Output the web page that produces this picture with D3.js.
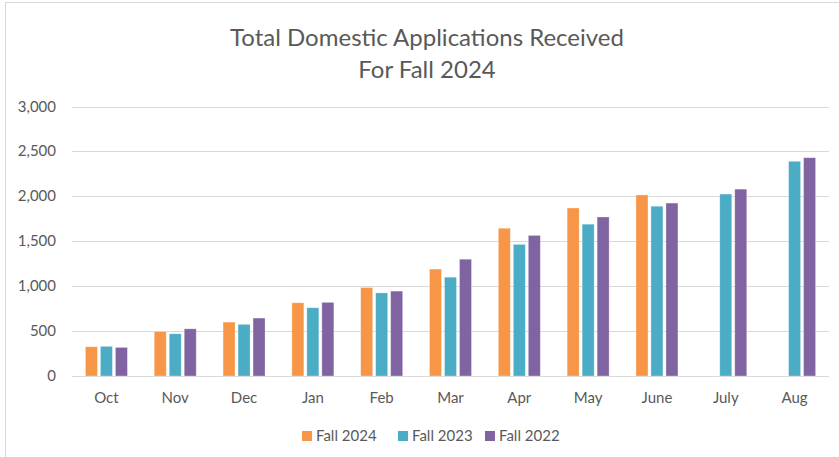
<!DOCTYPE html>
<html lang="en">
<head>
  <meta charset="utf-8" />
  <style>
    body { margin: 0; background: #fff; }
    text { font-family: Lato, "Open Sans", sans-serif; fill: #595959; }
  </style>
</head>
<body>
<div id="container"></div>
<script src="https://cdn.jsdelivr.net/npm/d3@7"></script>
<script>

const months = ['Oct', 'Nov', 'Dec', 'Jan', 'Feb', 'Mar', 'Apr', 'May', 'June', 'July', 'Aug'];
const seriesNames = ['Fall 2024', 'Fall 2023', 'Fall 2022'];
const fall2024 = [325, 495, 600, 815, 985, 1190, 1645, 1870, 2015, null, null];
const fall2023 = [330, 470, 575, 760, 925, 1100, 1465, 1690, 1890, 2025, 2390];
const fall2022 = [318, 525, 645, 820, 945, 1300, 1565, 1770, 1925, 2080, 2430];
const colors = ['#F79646', '#4BACC6', '#8064A2'];
const yTicks = [0, 500, 1000, 1500, 2000, 2500, 3000];

const W = 839, H = 457;
const plot = { left: 72, right: 829, top: 106.5, bottom: 376 };

const svg = d3.select('#container')
  .append('svg')
  .attr('width', W)
  .attr('height', H);

// chart border
svg.append('rect')
  .attr('x', 5.5).attr('y', 2.5)
  .attr('width', W + 10).attr('height', H + 10)
  .attr('fill', 'none')
  .attr('stroke', '#d9d9d9');

// title
svg.append('text')
  .attr('x', 427).attr('y', 46)
  .attr('text-anchor', 'middle')
  .style('font-size', '24px')
  .text('Total Domestic Applications Received');
svg.append('text')
  .attr('x', 427).attr('y', 78)
  .attr('text-anchor', 'middle')
  .style('font-size', '24px')
  .text('For Fall 2024');

const x0 = d3.scaleBand()
  .domain(months)
  .range([plot.left, plot.right])
  .paddingInner(0.39)
  .paddingOuter(0.195);

const x1 = d3.scaleBand()
  .domain(seriesNames)
  .range([0, x0.bandwidth()])
  .paddingInner(0.2);

const y = d3.scaleLinear()
  .domain([0, 3000])
  .range([plot.bottom, plot.top]);

// gridlines
svg.append('g')
  .selectAll('line')
  .data(yTicks)
  .join('line')
  .attr('x1', plot.left).attr('x2', plot.right)
  .attr('y1', d => Math.round(y(d)) + 0.5)
  .attr('y2', d => Math.round(y(d)) + 0.5)
  .attr('stroke', '#d9d9d9')
  .attr('stroke-width', 1);

// y tick labels
svg.append('g')
  .selectAll('text')
  .data(yTicks)
  .join('text')
  .attr('x', 56)
  .attr('y', d => y(d) + 5)
  .attr('text-anchor', 'end')
  .style('font-size', '15px')
  .text(d => d3.format(',')(d));

// bars
const seriesData = [fall2024, fall2023, fall2022];
const rows = [];
months.forEach((m, i) => {
  seriesNames.forEach((s, j) => {
    if (seriesData[j][i] != null) rows.push({ month: m, series: s, value: seriesData[j][i], color: colors[j] });
  });
});

svg.append('g')
  .selectAll('rect')
  .data(rows)
  .join('rect')
  .attr('x', d => x0(d.month) + x1(d.series))
  .attr('y', d => y(d.value))
  .attr('width', x1.bandwidth())
  .attr('height', d => y(0) - y(d.value))
  .attr('fill', d => d.color)
  .attr('stroke', '#ffffff')
  .attr('stroke-opacity', 0.4)
  .attr('stroke-width', 0.75);

// x labels
svg.append('g')
  .selectAll('text')
  .data(months)
  .join('text')
  .attr('x', d => x0(d) + x0.bandwidth() / 2)
  .attr('y', 403)
  .attr('text-anchor', 'middle')
  .style('font-size', '15px')
  .text(d => d);

// legend
const legendX = [302, 398, 485];
const legend = svg.append('g')
  .selectAll('g')
  .data(seriesNames)
  .join('g')
  .attr('transform', (d, i) => `translate(${legendX[i]}, 431)`);
legend.append('rect')
  .attr('width', 10).attr('height', 10)
  .attr('fill', (d, i) => colors[i]);
legend.append('text')
  .attr('x', 14).attr('y', 10)
  .style('font-size', '15px')
  .text(d => d);

</script>
</body>
</html>
